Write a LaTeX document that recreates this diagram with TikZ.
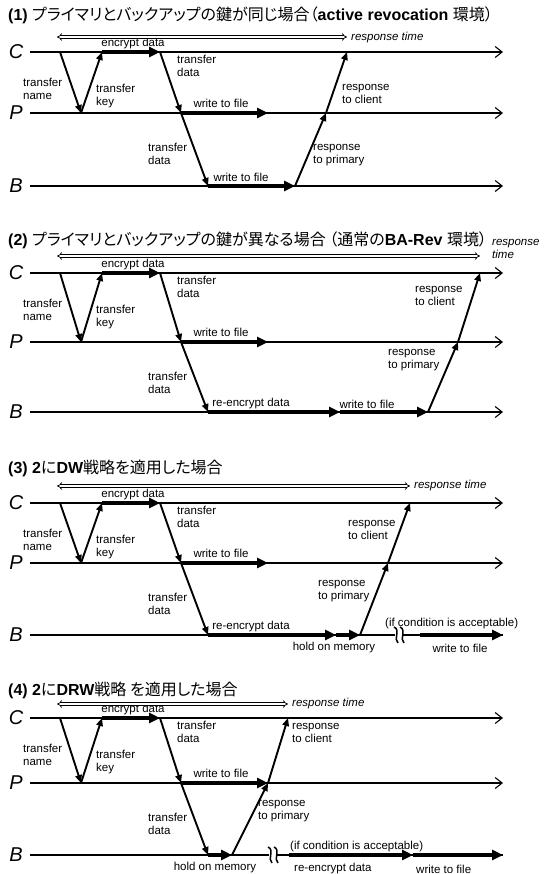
\documentclass[tikz,border=0pt]{standalone}
\usepackage{fontspec}
\setmainfont{Liberation Sans}
\newfontfamily\jpfont[RawFeature=+palt]{Noto Sans CJK JP}
\usetikzlibrary{arrows.meta}
\tikzset{
 lanestyle/.style={line width=1.1pt,-{Straight Barb[length=7pt,width=11pt]}},
 lanenotip/.style={line width=1.1pt},
 msg/.style={line width=1.9pt,-{Triangle[length=8pt,width=6.5pt]}},
 act/.style={line width=3.6pt,-{Triangle[length=11pt,width=10pt]}},
 rtarrow/.style={double,line width=0.7pt,double distance=1.8pt,{Implies}-{Implies}},
 lbl/.style={font=\fontsize{11.5}{13.5}\selectfont,align=left,inner sep=0pt},
 rtl/.style={font=\fontsize{11.5}{13.5}\selectfont\itshape,align=left,inner sep=0pt},
 lane/.style={font=\fontsize{20}{20}\selectfont\itshape,inner sep=0pt},
 ttl/.style={font=\fontsize{16}{16}\selectfont,anchor=west,inner sep=0pt},
 brk/.style={line width=1.5pt},
}
% #1 prefix, #2 C y, #3 P y, #4 B y
\newcommand{\seqbase}[4]{%
 \node[lane] (#1CL) at (16,#2) {C};
 \node[lane] (#1PL) at (16,#3) {P};
 \node[lane] (#1BL) at (16,#4) {B};
 \coordinate (#1C0) at (30,#2); \coordinate (#1C9) at (503,#2);
 \coordinate (#1P0) at (30,#3); \coordinate (#1P9) at (503,#3);
 \coordinate (#1B0) at (30,#4); \coordinate (#1B9) at (503,#4);
 \draw[lanestyle] (#1C0) -- (#1C9);
 \draw[lanestyle] (#1P0) -- (#1P9);
 \coordinate (#1tn) at (60,#2);
 \coordinate (#1tk) at (81,#3);
 \coordinate (#1ek) at (102,#2);
 \coordinate (#1ed) at (160,#2);
 \coordinate (#1td) at (181,#3);
 \coordinate (#1wf) at (268,#3);
 \coordinate (#1bd) at (208,#4);
 \draw[msg] (#1tn) -- (#1tk);
 \draw[msg] (#1tk) -- (#1ek);
 \draw[act] (#1ek) -- (#1ed);
 \draw[msg] (#1ed) -- (#1td);
 \draw[act] (#1td) -- (#1wf);
 \draw[msg] (#1td) -- (#1bd);
 \node[lbl,anchor=west] (#1Ln) at (23,#2+37) {transfer\\name};
 \node[lbl,anchor=west] (#1Lk) at (96,#2+44) {transfer\\key};
 \node[lbl] (#1Le) at (133,#2-8) {encrypt data};
 \node[lbl,anchor=west] (#1Ld) at (177,#2+14) {transfer\\data};
 \node[lbl] (#1Lw) at (221,#3-10) {write to file};
 \node[lbl,anchor=west] (#1Lb) at (148,#3+41) {transfer\\data};
}
\newcommand{\brkmark}[3]{%
 \coordinate (#1) at (#2,#3);
 \fill[white] (#2-4,#3-3) rectangle (#2+4,#3+3);
 \draw[brk] (#2-5,#3-8) .. controls (#2+2,#3-5) and (#2-6,#3+4) .. (#2-1,#3+8);
 \draw[brk] (#2+1,#3-8) .. controls (#2+8,#3-5) and (#2+0,#3+4) .. (#2+5,#3+8);
}
\begin{document}
\begin{tikzpicture}[x=1pt,y=-1pt]
\useasboundingbox (0,0) rectangle (543,874);
\fill[white] (0,0) rectangle (543,874);

% ---------- Panel 1 ----------
\node[ttl] (t1) at (8,15) {\textbf{(1)} {\jpfont プライマリとバックアップの鍵が同じ場合（}\textbf{active revocation} {\jpfont 環境）}};
\seqbase{A}{52}{113}{186}
\draw[lanestyle] (AB0) -- (AB9);
\coordinate (Awb) at (295,186);
\coordinate (Arp) at (326,113);
\coordinate (Arc) at (347,52);
\draw[act] (Abd) -- (Awb);
\draw[msg] (Awb) -- (Arp);
\draw[msg] (Arp) -- (Arc);
\node[lbl] (ALbw) at (241,177) {write to file};
\node[lbl,anchor=west] (ALrp) at (313,155) {response\\to primary};
\node[lbl,anchor=west] (ALrc) at (342,94) {response\\to client};
\coordinate (Ars) at (57,37);
\coordinate (Are) at (347,37);
\draw[rtarrow] (Ars) -- (Are);
\node[rtl,anchor=west] (ALrt) at (351,38) {response time};

% ---------- Panel 2 ----------
\node[ttl] (t2) at (8,240) {\textbf{(2)} {\jpfont プライマリとバックアップの鍵が異なる場合 （通常の}\textbf{BA-Rev} {\jpfont 環境）}};
\seqbase{D}{273}{342}{412}
\draw[lanestyle] (DB0) -- (DB9);
\coordinate (Dre) at (340,412);
\coordinate (Dwb) at (428,412);
\coordinate (Drp) at (458,342);
\coordinate (Drc) at (480,273);
\draw[act] (Dbd) -- (Dre);
\draw[act] (Dre) -- (Dwb);
\draw[msg] (Dwb) -- (Drp);
\draw[msg] (Drp) -- (Drc);
\node[lbl] (DLre) at (251,404) {re-encrypt data};
\node[lbl] (DLwb) at (367,404) {write to file};
\node[lbl,anchor=west] (DLrp) at (388,360) {response\\to primary};
\node[lbl,anchor=west] (DLrc) at (415,296) {response\\to client};
\coordinate (Drs) at (57,256);
\coordinate (Dre2) at (480,256);
\draw[rtarrow] (Drs) -- (Dre2);
\node[rtl,anchor=west] (DLrt) at (492,249) {response\\time};

% ---------- Panel 3 ----------
\node[ttl] (t3) at (8,468) {\textbf{(3) 2}{\jpfont に}\textbf{DW}{\jpfont 戦略を適用した場合}};
\seqbase{G}{503}{563}{635}
\draw[lanenotip] (GB0) -- (GB9);
\coordinate (Gre) at (336,635);
\coordinate (Ghm) at (360,635);
\coordinate (Grp) at (388,563);
\coordinate (Grc) at (410,503);
\coordinate (Gws) at (420,635);
\draw[act] (Gbd) -- (Gre);
\draw[act] (Gre) -- (Ghm);
\draw[msg] (Ghm) -- (Grp);
\draw[msg] (Grp) -- (Grc);
\brkmark{Gbr}{399}{635}
\draw[act] (Gws) -- (GB9);
\node[lbl] (GLre) at (251,627) {re-encrypt data};
\node[lbl] (GLhm) at (334,648) {hold on memory};
\node[lbl,anchor=west] (GLif) at (385,624) {(if condition is acceptable)};
\node[lbl] (GLwf) at (460,648) {write to file};
\node[lbl,anchor=west] (GLrp) at (318,591) {response\\to primary};
\node[lbl,anchor=west] (GLrc) at (348,530) {response\\to client};
\coordinate (Grs) at (57,486);
\coordinate (Gre2) at (410,486);
\draw[rtarrow] (Grs) -- (Gre2);
\node[rtl,anchor=west] (GLrt) at (414,486) {response time};

% ---------- Panel 4 ----------
\node[ttl] (t4) at (8,690) {\textbf{(4) 2}{\jpfont に}\textbf{DRW}{\jpfont 戦略 を適用した場合}};
\seqbase{K}{718}{783}{855}
\draw[lanenotip] (KB0) -- (KB9);
\coordinate (Khm) at (232,855);
\coordinate (Krp) at (268,783);
\coordinate (Krc) at (288,718);
\coordinate (Kre0) at (289,855);
\coordinate (Kre) at (413,855);
\draw[act] (Kbd) -- (Khm);
\draw[msg] (Khm) -- (Krp);
\draw[msg] (Krp) -- (Krc);
\brkmark{Kbr}{273}{855}
\draw[act] (Kre0) -- (Kre);
\draw[act] (Kre) -- (KB9);
\node[lbl] (KLhm) at (215,868) {hold on memory};
\node[lbl,anchor=west] (KLif) at (290,847) {(if condition is acceptable)};
\node[lbl,anchor=west] (KLre) at (294,869) {re-encrypt data};
\node[lbl,anchor=west] (KLwf) at (416,869) {write to file};
\node[lbl,anchor=west] (KLrp) at (258,811) {response\\to primary};
\node[lbl,anchor=west] (KLrc) at (292,733) {response\\to client};
\coordinate (Krs) at (57,704);
\coordinate (Kre2) at (288,704);
\draw[rtarrow] (Krs) -- (Kre2);
\node[rtl,anchor=west] (KLrt) at (292,704) {response time};
\end{tikzpicture}
\end{document}
